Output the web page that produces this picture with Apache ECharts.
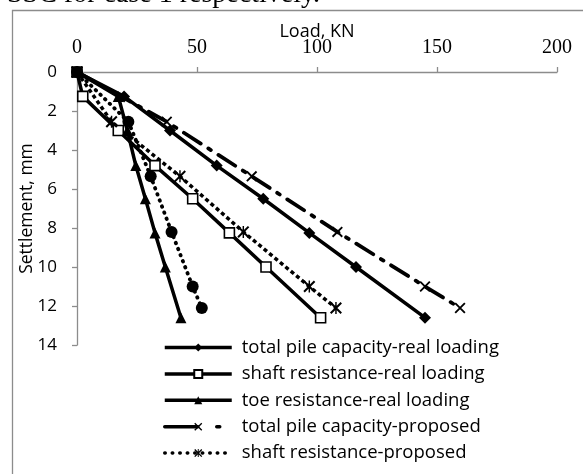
<!DOCTYPE html>
<html>
<head>
<meta charset="utf-8">
<script src="https://cdn.jsdelivr.net/npm/echarts@6/dist/echarts.min.js"></script>
<style>
html,body{margin:0;padding:0;background:#fff;}
#chart{width:583px;height:474px;}
</style>
</head>
<body>
<div id="chart"></div>
<script>
// Settlement (mm) for each loading step
const settleReal = [0, 1.25, 3, 4.8, 6.5, 8.25, 10, 12.6];
const totalReal  = [0, 19.6, 38.75, 58.2, 77.6, 96.8, 116.25, 145];
const shaftReal  = [0, 2.4, 17.2, 32.5, 48.2, 63.5, 78.75, 101.5];
const toeReal    = [0, 17.2, 21, 24.5, 28.5, 32.5, 36.8, 43.3];

const settleProp = [0, 2.55, 5.35, 8.2, 11, 12.1];
const totalProp  = [0, 37.4, 72.8, 108.5, 145, 159.6];
const shaftProp  = [0, 14.4, 42.9, 69.3, 96.8, 107.9];
const toeProp    = [0, 21.4, 30.7, 39.4, 48.2, 52];

const seriesNames = [
  'total pile capacity-real loading',
  'shaft resistance-real loading',
  'toe resistance-real loading',
  'total pile capacity-proposed',
  'shaft resistance-proposed',
  'toe resistance-proposed'
];
const xTicks = [0, 50, 100, 150, 200];
const yTicks = [0, 2, 4, 6, 8, 10, 12, 14];

function pairs(loads, settles){ return loads.map((v,i)=>[v, settles[i]]); }

const X_PATH = 'path://M0,1.2L1.2,0L10,8.8L8.8,10ZM8.8,0L10,1.2L1.2,10L0,8.8Z';
const STAR_PATH = 'path://M0,1.2L1.2,0L10,8.8L8.8,10ZM8.8,0L10,1.2L1.2,10L0,8.8ZM4.4,0L5.6,0L5.6,10L4.4,10Z';

const chart = echarts.init(document.getElementById('chart'));
const black = '#000';
const sansFont = 'Open Sans';

const lineStyles = [
  {color:black, width:3.5},
  {color:black, width:3.5},
  {color:black, width:3.5},
  {color:black, width:3.8, type:[20,9,3,9], cap:'round'},
  {color:black, width:3.5, type:[4,3]},
  {color:black, width:3.8, type:[0.5,6], cap:'round'}
];
const legendLineStyles = [
  {color:black, width:3.5},
  {color:black, width:3.5},
  {color:black, width:3.5},
  {color:black, width:3.5, type:[33,19,3,40], cap:'round'},
  {color:black, width:3.5, type:[0.5,7], cap:'round'}
];

chart.setOption({
  animation: false,
  backgroundColor: '#fff',
  title: {
    text:'SSC for case 1 respectively.', left:7, top:-19, padding:0,
    textStyle:{ fontSize:28, fontFamily:'Liberation Serif', fontWeight:'normal', color:'#000', lineHeight:28 }
  },
  graphic: [
    { type:'rect', z:-10, shape:{x:12.5, y:10.5, width:700, height:600},
      style:{fill:'none', stroke:'#8c8c8c', lineWidth:1.3} }
  ],
  grid: { left:77, top:72, width:480, height:273, containLabel:false },
  legend: {
    orient:'vertical', left:163, top:338, padding:0,
    itemWidth:67, itemHeight:10, itemGap:7.4,
    data: seriesNames.slice(0,5).map((n,i)=>({name:n, lineStyle:legendLineStyles[i]})),
    textStyle:{ fontFamily:sansFont, fontSize:18.5, color:'#000', lineHeight:18, padding:[0,0,0,5] }
  },
  xAxis: {
    type:'value', position:'top', min:0, max:200, interval:50,
    name:'Load, KN', nameLocation:'middle', nameGap:31, nameMoveOverlap:false,
    nameTextStyle:{ fontFamily:sansFont, fontSize:18, color:'#000' },
    axisLine:{ show:true, lineStyle:{color:'#8c8c8c', width:1.3} },
    axisTick:{ show:true, length:5, lineStyle:{color:'#8c8c8c', width:1.3} },
    axisLabel:{ fontFamily:'Liberation Serif', fontSize:20, color:'#000', margin:14,
      formatter: v => xTicks.includes(v) ? String(v) : '' },
    splitLine:{ show:false }
  },
  yAxis: {
    type:'value', inverse:true, min:0, max:14, interval:2,
    name:'Settlement, mm', nameLocation:'middle', nameGap:41, nameRotate:90, nameMoveOverlap:false,
    nameTextStyle:{ fontFamily:sansFont, fontSize:17.5, color:'#000' },
    axisLine:{ show:true, lineStyle:{color:'#8c8c8c', width:1.3} },
    axisTick:{ show:true, length:5, lineStyle:{color:'#8c8c8c', width:1.3} },
    axisLabel:{ fontFamily:sansFont, fontSize:17, color:'#000', margin:20,
      formatter: v => yTicks.includes(v) ? String(v) : '' },
    splitLine:{ show:false }
  },
  series: [
    { name:seriesNames[0], type:'line', data:pairs(totalReal, settleReal),
      symbol:'diamond', symbolSize:12, itemStyle:{color:black}, lineStyle:lineStyles[0] },
    { name:seriesNames[1], type:'line', data:pairs(shaftReal, settleReal),
      symbol:'rect', symbolSize:10, itemStyle:{color:'#fff', borderColor:black, borderWidth:1.6},
      lineStyle:lineStyles[1] },
    { name:seriesNames[2], type:'line', data:pairs(toeReal, settleReal),
      symbol:'triangle', symbolSize:11, itemStyle:{color:black}, lineStyle:lineStyles[2] },
    { name:seriesNames[3], type:'line', data:pairs(totalProp, settleProp),
      symbol:X_PATH, symbolSize:11, itemStyle:{color:black}, lineStyle:lineStyles[3] },
    { name:seriesNames[4], type:'line', data:pairs(shaftProp, settleProp),
      symbol:STAR_PATH, symbolSize:12, itemStyle:{color:black}, lineStyle:lineStyles[4] },
    { name:seriesNames[5], type:'line', data:pairs(toeProp, settleProp),
      symbol:'circle', symbolSize:12, itemStyle:{color:black}, lineStyle:lineStyles[5] }
  ]
});
</script>
</body>
</html>
